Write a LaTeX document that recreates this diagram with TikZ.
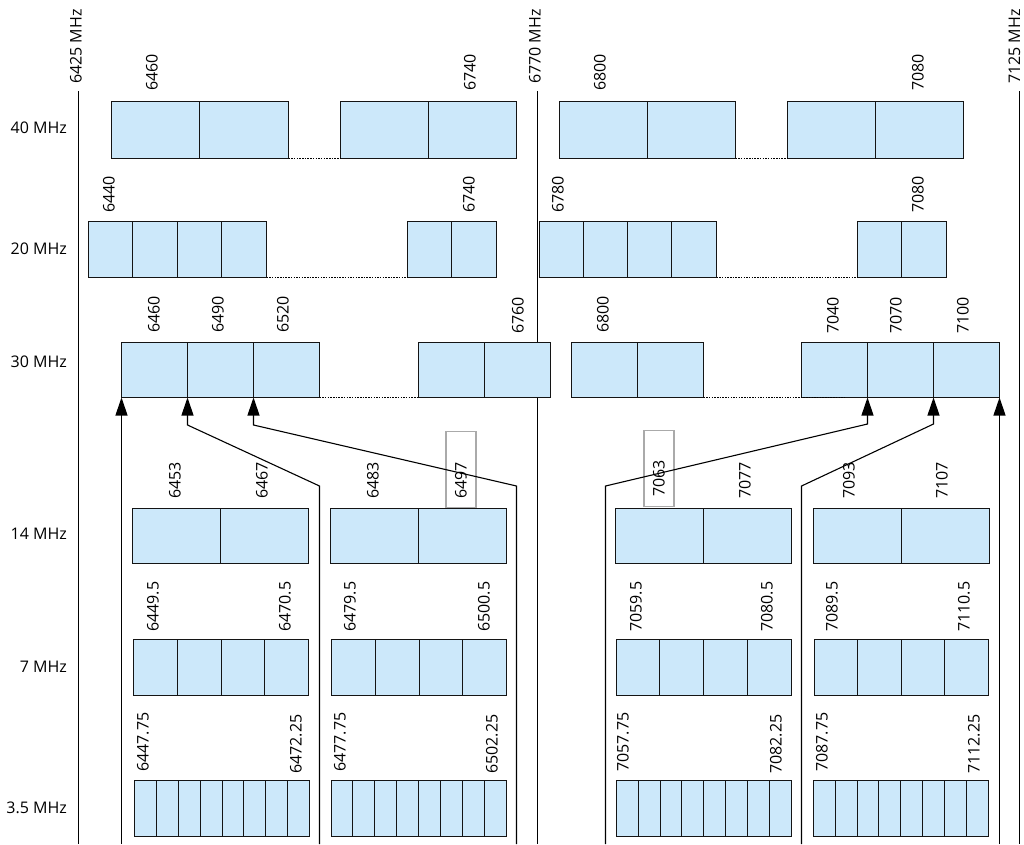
\documentclass[tikz,border=0pt]{standalone}
\usepackage{fontspec}
\setmainfont{Open Sans}
\usetikzlibrary{arrows.meta,calc}
\definecolor{cellfill}{RGB}{204,232,250}
\definecolor{celledge}{RGB}{20,20,20}
\definecolor{hlgrey}{RGB}{170,170,170}
\tikzset{
  cell/.style={draw=celledge, fill=cellfill, line width=1.5pt, inner sep=0pt, outer sep=0pt, anchor=north west},
  freq/.style={rotate=90, anchor=west, inner sep=0pt, font=\fontsize{16}{19}\selectfont},
  rowlab/.style={anchor=east, inner sep=0pt, font=\fontsize{16}{19}\selectfont},
  band/.style={line width=1.1pt, draw=black},
  gapline/.style={line width=1.2pt, dash pattern=on 1.5pt off 1.2pt},
  feed/.style={line width=1.1pt, -{Triangle[length=18pt,width=12pt]}},
  hlbox/.style={draw=hlgrey, line width=1.4pt, inner sep=0pt, minimum width=30pt, minimum height=76pt}
}
% name, x-left, x-right, y-top, y-bottom, number of cells (edges snapped to half pixels)
\newcommand\cellgroup[6]{%
  \pgfmathsetmacro\cw{(#3-#2)/#6}%
  \pgfmathsetmacro\ctop{floor(#4)+0.5}%
  \pgfmathsetmacro\ch{floor(#5)-floor(#4)}%
  \foreach \i in {1,...,#6}{%
    \pgfmathsetmacro\xa{floor(#2+(\i-1)*\cw)+0.5}%
    \pgfmathsetmacro\xb{floor(#2+\i*\cw)+0.5}%
    \pgfmathsetmacro\ww{\xb-\xa}%
    \node[cell, minimum width=\ww pt, minimum height=\ch pt] (#1-\i) at (\xa, \ctop) {};
  }%
}
\begin{document}
\begin{tikzpicture}[x=1pt,y=-1pt]
\useasboundingbox (0,0) rectangle (1024,844);

% band edge lines
\coordinate (t1) at (78.5,91);   \coordinate (b1) at (78.5,844);
\coordinate (t2) at (537.5,91);  \coordinate (b2) at (537.5,844);
\coordinate (t3) at (1019.5,91); \coordinate (b3) at (1019.5,844);
\draw[band] (t1) -- (b1);
\draw[band] (t2) -- (b2);
\draw[band] (t3) -- (b3);
\node[freq] (e1) at (76,84) {6425 MHz};
\node[freq] (e2) at (535,84) {6770 MHz};
\node[freq] (e3) at (1014.5,84) {7125 MHz};

% row labels
\node[rowlab] (l40) at (67,128) {40 MHz};
\node[rowlab] (l20) at (67,249) {20 MHz};
\node[rowlab] (l30) at (67,362) {30 MHz};
\node[rowlab] (l14) at (67,534) {14 MHz};
\node[rowlab] (l7)  at (67,667) {7 MHz};
\node[rowlab] (l35) at (67,808) {3.5 MHz};

% 40 MHz
\cellgroup{r40a}{111}{288}{101}{158}{2}
\cellgroup{r40b}{340}{516}{101}{158}{2}
\cellgroup{r40c}{559}{735}{101}{158}{2}
\cellgroup{r40d}{787}{963}{101}{158}{2}
% 20 MHz
\cellgroup{r20a}{88}{266}{221}{277}{4}
\cellgroup{r20b}{407}{496}{221}{277}{2}
\cellgroup{r20c}{539}{716}{221}{277}{4}
\cellgroup{r20d}{857}{946}{221}{277}{2}
% 30 MHz
\cellgroup{r30a}{121}{319}{342}{397}{3}
\cellgroup{r30b}{418}{550}{342}{397}{2}
\cellgroup{r30c}{571}{703}{342}{397}{2}
\cellgroup{r30d}{801}{999}{342}{397}{3}
% 14 MHz
\cellgroup{r14a}{132}{308}{508}{563}{2}
\cellgroup{r14b}{330}{506}{508}{563}{2}
\cellgroup{r14c}{615.5}{791}{508}{563}{2}
\cellgroup{r14d}{813}{989}{508}{563}{2}
% 7 MHz
\cellgroup{r7a}{133.5}{308.5}{639}{695}{4}
\cellgroup{r7b}{331.5}{506.5}{639}{695}{4}
\cellgroup{r7c}{616}{791}{639}{695}{4}
\cellgroup{r7d}{814}{988.5}{639}{695}{4}
% 3.5 MHz
\cellgroup{r35a}{134.5}{309.5}{780}{836}{8}
\cellgroup{r35b}{331}{506.5}{780}{836}{8}
\cellgroup{r35c}{616.5}{791}{780}{836}{8}
\cellgroup{r35d}{813.5}{988}{780}{836}{8}

% dotted gaps
\coordinate (dotend) at ($(r30d-1.south west)!0.66!(r30d-1.south east)$);
\draw[gapline] (r40a-2.south east) -- (r40b-1.south west);
\draw[gapline] (r40c-2.south east) -- (r40d-1.south west);
\draw[gapline] (r20a-4.south east) -- (r20b-1.south west);
\draw[gapline] (r20c-4.south east) -- (r20d-1.south west);
\draw[gapline] (r30a-3.south east) -- (r30b-1.south west);
\draw[gapline] (r30c-2.south east) -- (dotend);

% highlight boxes
\node[hlbox] (g1) at (461,469.5) {};
\node[hlbox] (g2) at (659,468.5) {};

% frequency labels
\node[freq] (f1) at (152,91) {6460};
\node[freq] (f2) at (470,91) {6740};
\node[freq] (f3) at (600,91) {6800};
\node[freq] (f4) at (918,91) {7080};

\node[freq] (f5) at (109,213) {6440};
\node[freq] (f6) at (469,213) {6740};
\node[freq] (f7) at (558,213) {6780};
\node[freq] (f8) at (918,213) {7080};

\node[freq] (f9)  at (154,333) {6460};
\node[freq] (f10) at (218,333) {6490};
\node[freq] (f11) at (283,333) {6520};
\node[freq] (f12) at (518,334) {6760};
\node[freq] (f13) at (603,333) {6800};
\node[freq] (f14) at (833,334) {7040};
\node[freq] (f15) at (896,334) {7070};
\node[freq] (f16) at (963,334) {7100};

\node[freq] (f17) at (175,499) {6453};
\node[freq] (f18) at (262,499) {6467};
\node[freq] (f19) at (373,499) {6483};
\node[freq] (f20) at (461,499) {6497};
\node[freq] (f21) at (659,497) {7063};
\node[freq] (f22) at (745,499) {7077};
\node[freq] (f23) at (849,499) {7093};
\node[freq] (f24) at (942,499) {7107};

\node[freq] (f25) at (153,632) {6449.5};
\node[freq] (f26) at (285,632) {6470.5};
\node[freq] (f27) at (350,632) {6479.5};
\node[freq] (f28) at (484,632) {6500.5};
\node[freq] (f29) at (636,632) {7059.5};
\node[freq] (f30) at (767,632) {7080.5};
\node[freq] (f31) at (832,632) {7089.5};
\node[freq] (f32) at (964,632) {7110.5};

\node[freq] (f33) at (143,772) {6447.75};
\node[freq] (f34) at (296,774) {6472.25};
\node[freq] (f35) at (340,772) {6477.75};
\node[freq] (f36) at (492,774) {6502.25};
\node[freq] (f37) at (623,772) {7057.75};
\node[freq] (f38) at (776,774) {7082.25};
\node[freq] (f39) at (822,772) {7087.75};
\node[freq] (f40) at (974,774) {7112.25};

% feed arrows
\coordinate (s1) at (121.5,844);
\coordinate (s2) at (319.5,844); \coordinate (k2) at (319.5,486); \coordinate (j2) at (187.5,425);
\coordinate (s3) at (516.5,844); \coordinate (k3) at (516.5,486); \coordinate (j3) at (253.5,425);
\coordinate (s4) at (605.5,844); \coordinate (k4) at (605.5,486); \coordinate (j4) at (867.5,424);
\coordinate (s5) at (801.5,844); \coordinate (k5) at (801.5,486); \coordinate (j5) at (933.5,424);
\coordinate (s6) at (999.5,844);
\draw[feed] (s1) -- (r30a-1.south west);
\draw[feed] (s2) -- (k2) -- (j2) -- (r30a-1.south east);
\draw[feed] (s3) -- (k3) -- (j3) -- (r30a-2.south east);
\draw[feed] (s4) -- (k4) -- (j4) -- (r30d-1.south east);
\draw[feed] (s5) -- (k5) -- (j5) -- (r30d-2.south east);
\draw[feed] (s6) -- (r30d-3.south east);
\end{tikzpicture}
\end{document}
